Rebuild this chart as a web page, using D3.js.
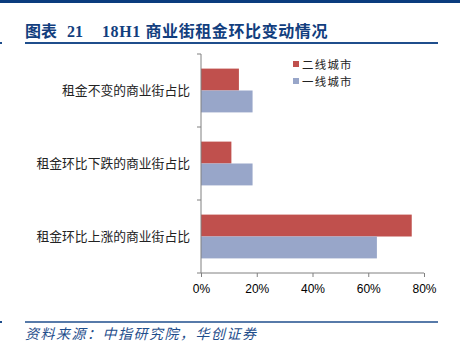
<!doctype html>
<html>
  <head>
    <meta charset="utf-8">
    <script src="https://d3js.org/d3.v7.min.js"></script>
    <style>
      body { margin: 0; background: #fff; }
    </style>
  </head>
  <body>
    <svg id="chart" width="460" height="351"></svg>
    <script>
      // data
      var categories = ["租金不变的商业街占比", "租金环比下跌的商业街占比", "租金环比上涨的商业街占比"];
      var seriesNames = ["二线城市", "一线城市"];
      var tier2 = [13.6, 10.9, 75.6];
      var tier1 = [18.5, 18.5, 63.1];
      var xTicks = [0, 20, 40, 60, 80];

      var colors = ["#C0504D", "#98A6C9"];
      var svg = d3.select("#chart");
      var titleFont = "'Liberation Serif', 'Noto Sans CJK SC', serif";

      // header band + title
      svg.append("rect").attr("x", 0).attr("y", 0).attr("width", 460).attr("height", 3).attr("fill", "#0B3C7E");
      var title = svg.append("g")
        .style("font-family", titleFont)
        .style("font-weight", "bold").style("font-size", "16px")
        .attr("fill", "#123E7E");
      title.append("text").attr("x", 25).attr("y", 37).text("图表");
      title.append("text").attr("x", 67).attr("y", 37).text("21");
      title.append("text").attr("x", 102).attr("y", 37).style("letter-spacing", "0.6px").text("18H1 商业街租金环比变动情况");
      svg.append("line").attr("x1", 25).attr("x2", 438).attr("y1", 43).attr("y2", 43)
        .attr("stroke", "#1F4E8C").attr("stroke-width", 2);
      svg.append("rect").attr("x", 0).attr("y", 42).attr("width", 2).attr("height", 2).attr("fill", "#1F4E8C");

      // scales
      var x = d3.scaleLinear().domain([0, 80]).range([201, 424]);
      var y = d3.scaleBand().domain(categories).range([54, 273]).paddingInner(0.4).paddingOuter(0.2);
      var ySub = d3.scaleBand().domain(seriesNames).range([0, y.bandwidth()]);

      var rows = categories.map(function(c, i) { return {cat: c, vals: [tier2[i], tier1[i]]}; });

      var g = svg.append("g");
      g.selectAll("g.row")
        .data(rows)
        .enter().append("g")
          .attr("transform", function(d) { return "translate(0," + y(d.cat) + ")"; })
        .selectAll("rect")
        .data(function(d) { return d.vals.map(function(v, j) { return {s: seriesNames[j], v: v, j: j}; }); })
        .enter().append("rect")
          .attr("x", x(0))
          .attr("y", function(d) { return ySub(d.s); })
          .attr("width", function(d) { return x(d.v) - x(0); })
          .attr("height", ySub.bandwidth())
          .attr("fill", function(d) { return colors[d.j]; });

      // x axis
      var xAxis = svg.append("g").attr("transform", "translate(0,273)")
        .call(d3.axisBottom(x).tickValues(xTicks).tickSize(4).tickFormat(function(d) { return d + "%"; }));
      xAxis.select(".domain").attr("stroke", "#808080").attr("d", "M201,0H424");
      xAxis.selectAll(".tick line").attr("stroke", "#808080");
      xAxis.selectAll(".tick text")
        .attr("dy", "1.1em")
        .style("font-family", "'Liberation Sans', Arial, sans-serif")
        .style("font-size", "12px").attr("fill", "#000");

      // y axis: line + ticks at band edges
      svg.append("line").attr("x1", 201).attr("x2", 201).attr("y1", 54).attr("y2", 273).attr("stroke", "#808080");
      var edges = [54, 127, 200, 273];
      svg.selectAll("line.ytick").data(edges).enter().append("line")
        .attr("class", "ytick")
        .attr("x1", 197).attr("x2", 201)
        .attr("y1", function(d) { return d; }).attr("y2", function(d) { return d; })
        .attr("stroke", "#808080");

      svg.selectAll("text.cat").data(categories).enter().append("text")
        .attr("class", "cat")
        .attr("x", 190)
        .attr("y", function(d) { return y(d) + y.bandwidth() / 2 + 4.5; })
        .attr("text-anchor", "end")
        .style("font-family", "'Noto Sans CJK SC', sans-serif")
        .style("font-size", "12.8px").attr("fill", "#222")
        .text(function(d) { return d; });

      // legend
      var legend = svg.selectAll("g.legend").data(seriesNames).enter().append("g")
        .attr("transform", function(d, i) { return "translate(293," + (61 + i * 17) + ")"; });
      legend.append("rect").attr("width", 6).attr("height", 6)
        .attr("fill", function(d, i) { return colors[i]; });
      legend.append("text").attr("x", 9).attr("y", 7.5)
        .style("font-family", "'Noto Sans CJK SC', sans-serif")
        .style("font-size", "11.4px").style("letter-spacing", "1.3px").attr("fill", "#222")
        .text(function(d) { return d; });

      // footer
      svg.append("line").attr("x1", 25).attr("x2", 438).attr("y1", 322).attr("y2", 322)
        .attr("stroke", "#1F4E8C").attr("stroke-width", 1.5);
      svg.append("rect").attr("x", 0).attr("y", 321).attr("width", 2).attr("height", 2).attr("fill", "#1F4E8C");
      svg.append("text")
        .attr("x", 25).attr("y", 339)
        .style("font-family", "'Noto Sans CJK SC', sans-serif")
        .style("font-style", "italic").style("font-size", "14px")
        .style("letter-spacing", "1.5px")
        .attr("fill", "#1F4E8C")
        .text("资料来源：中指研究院，华创证券");
    </script>
  </body>
</html>
